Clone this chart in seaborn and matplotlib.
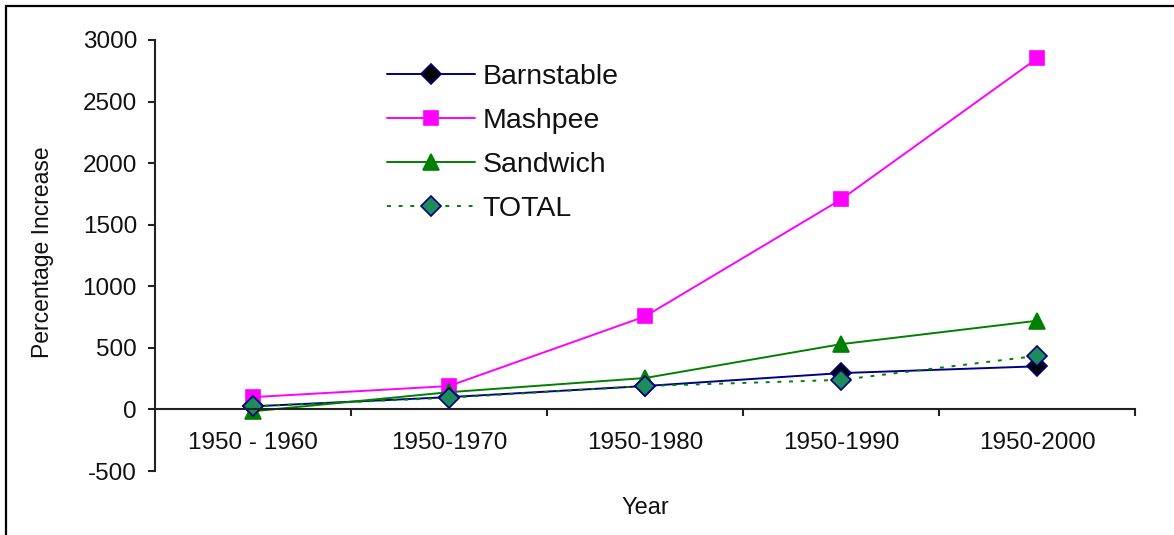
import matplotlib
matplotlib.use("Agg")
import matplotlib.pyplot as plt
from matplotlib.patches import Rectangle
import seaborn as sns
import pandas as pd

# Population growth since 1950, percent
periods = ["1950 - 1960", "1950-1970", "1950-1980", "1950-1990", "1950-2000"]
barnstable = [25, 100, 190, 295, 350]
mashpee = [100, 190, 755, 1705, 2850]
sandwich = [-15, 140, 255, 530, 720]
total = [25, 95, 190, 240, 435]

y_ticks = [-500, 0, 500, 1000, 1500, 2000, 2500, 3000]

sns.set_theme(style="white")
plt.rcParams["font.family"] = ["Liberation Sans", "DejaVu Sans"]

W, H = 1174, 535
fig = plt.figure(figsize=(W / 100, H / 100), dpi=100)
ax = fig.add_axes([155 / W, 1 - 471 / H, 980 / W, 431 / H])

pos = list(range(len(periods)))
series = [
    ("Barnstable", barnstable, dict(color="#000080", marker="D", markersize=10,
                                    markerfacecolor="black", markeredgecolor="#000080",
                                    linestyle="-")),
    ("Mashpee", mashpee, dict(color="#FF00FF", marker="s", markersize=10,
                              markerfacecolor="#FF00FF", markeredgecolor="#FF00FF",
                              linestyle="-")),
    ("Sandwich", sandwich, dict(color="#008000", marker="^", markersize=11,
                                markerfacecolor="#008000", markeredgecolor="#008000",
                                linestyle="-")),
    ("TOTAL", total, dict(color="#008000", marker="D", markersize=10,
                          markerfacecolor="#1E8C5A", markeredgecolor="#000080",
                          linestyle=(0, (2, 4)))),
]

for name, vals, style in series:
    df = pd.DataFrame({"pos": pos, "value": vals})
    sns.lineplot(data=df, x="pos", y="value", ax=ax, label=name,
                 linewidth=1.4, markeredgewidth=1.2, **style)

ax.set_xlim(-0.5, len(periods) - 0.5)
ax.set_ylim(-500, 3000)

# Value axis on the left, category axis crossing at zero
for side in ("top", "right"):
    ax.spines[side].set_visible(False)
ax.spines["bottom"].set_position(("data", 0))
for side in ("left", "bottom"):
    ax.spines[side].set_color("#222222")
    ax.spines[side].set_linewidth(1.5)

ax.set_yticks(y_ticks)
ax.set_yticklabels([str(t) for t in y_ticks])
ax.tick_params(axis="y", direction="out", length=5, width=1.5, color="#222222",
               pad=8, labelsize=17.5, labelcolor="#111111", left=True)

# Tick marks between categories, labels centred on categories
ax.set_xticks([p + 0.5 for p in pos])
ax.set_xticklabels([])
ax.tick_params(axis="x", which="major", direction="out", length=5, width=1.5,
               color="#222222", bottom=True)
ax.set_xticks(pos, minor=True)
ax.set_xticklabels(periods, minor=True)
ax.tick_params(axis="x", which="minor", length=0, pad=16, labelsize=17.5,
               labelcolor="#111111")

ax.set_xlabel("Year", fontsize=17, color="#111111")
ax.set_ylabel("Percentage Increase", fontsize=16.5, color="#111111")
ax.xaxis.set_label_coords(0.5, -0.06)
ax.yaxis.set_label_coords(-0.103, 0.508)
ax.grid(False)

leg = ax.legend(loc="upper left", bbox_to_anchor=(387 / W, 1 - 64 / H),
                bbox_transform=fig.transFigure, frameon=False, fontsize=20.5,
                handlelength=3.1, handletextpad=0.25, labelspacing=0.63,
                borderpad=0, borderaxespad=0)
for t in leg.get_texts():
    t.set_color("#111111")

# Outer chart border
fig.patches.append(Rectangle((6 / W, -0.2), 1.5, 1.2 - 6 / H,
                             transform=fig.transFigure, fill=False,
                             edgecolor="black", linewidth=1.6, clip_on=False))

fig.savefig("out.png", dpi=100)
